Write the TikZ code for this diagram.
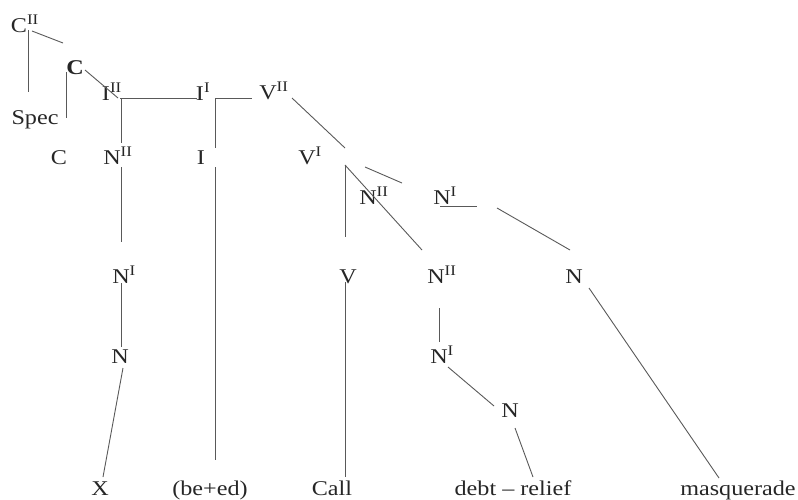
\documentclass[tikz,border=0pt]{standalone}
\usepackage{fontspec}
\setmainfont{Liberation Serif}[FakeStretch=1.15]
\newcommand\supr[1]{\rlap{\textsuperscript{#1}}}
\begin{document}
\begin{tikzpicture}[x=1pt,y=-1pt,
  lab/.style={anchor=base,inner sep=0pt,text=black!85,font=\fontsize{21}{21}\selectfont},
  ln/.style={draw=black!65,line width=0.9pt}]
\useasboundingbox (0,0) rectangle (798,499);
% labels
\node[lab] (cII)  at (19,32)  {C\supr{II}};
\node[lab] (cb)   at (75,74)  {\textbf{C}};
\node[lab] (spec) at (35,124) {Spec};
\node[lab] (clow) at (59,164) {C};
\node[lab] (iII)  at (106,100) {I\supr{II}};
\node[lab] (iI)   at (200,100) {I\supr{I}};
\node[lab] (vII)  at (268,99)  {V\supr{II}};
\node[lab] (nIIl) at (112,164) {N\supr{II}};
\node[lab] (il)   at (201,164) {I};
\node[lab] (vI)   at (307,164) {V\supr{I}};
\node[lab] (nIIt) at (368,204) {N\supr{II}};
\node[lab] (nIt)  at (442,204) {N\supr{I}};
\node[lab] (nIl)  at (121,283) {N\supr{I}};
\node[lab] (v)    at (348,283) {V};
\node[lab] (nIIm) at (436,283) {N\supr{II}};
\node[lab] (nr)   at (574,283) {N};
\node[lab] (nl)   at (120,363) {N};
\node[lab] (nIlow) at (439,363) {N\supr{I}};
\node[lab] (nlow) at (510,417) {N};
\node[lab] (x)    at (100,495) {X};
\node[lab] (beed) at (210,495) {(be+ed)};
\node[lab] (call) at (332,495) {Call};
\node[lab] (debt) at (513,495) {debt – relief};
\node[lab] (masq) at (738,495) {masquerade};
% connectors
\draw[ln] ([shift={(9,-2)}]cII.base) -- ([shift={(-7,-32)}]spec.base);
\draw[ln] ([shift={(13,-1)}]cII.base) -- ([shift={(-12,-31)}]cb.base);
\draw[ln] ([shift={(-9,-2)}]cb.base) -- ([shift={(7,-46)}]clow.base);
\draw[ln] ([shift={(10,-4)}]cb.base) -- ([shift={(12,-2)}]iII.base);
\draw[ln] ([shift={(14,-2)}]iII.base) -- ([shift={(-3,-2)}]iI.base);
\draw[ln] ([shift={(15,-2)}]iII.base) -- ([shift={(9,-21)}]nIIl.base);
\draw[ln] ([shift={(9,3)}]nIIl.base) -- ([shift={(0,-41)}]nIl.base);
\draw[ln] (nIl.base) -- ([shift={(1,-16)}]nl.base);
\draw[ln] ([shift={(3,5)}]nl.base) -- ([shift={(3,-18)}]x.base);
\draw[ln] ([shift={(15,-2)}]iI.base) -- ([shift={(-16,-1)}]vII.base);
\draw[ln] ([shift={(15,-2)}]iI.base) -- ([shift={(14,-16)}]il.base);
\draw[ln] ([shift={(14,3)}]il.base) -- ([shift={(5,-35)}]beed.base);
\draw[ln] ([shift={(24,-1)}]vII.base) -- ([shift={(38,-16)}]vI.base);
\draw[ln] ([shift={(38,1)}]vI.base) -- ([shift={(-3,-46)}]v.base);
\draw[ln] ([shift={(38,1)}]vI.base) -- ([shift={(-14,-33)}]nIIm.base);
\draw[ln] ([shift={(58,3)}]vI.base) -- ([shift={(34,-21)}]nIIt.base);
\coordinate (ul) at ([shift={(35,2)}]nIt.base);
\draw[ln] ([shift={(-2,2)}]nIt.base) -- (ul);
\draw[ln] ([shift={(55,4)}]nIt.base) -- ([shift={(-4,-33)}]nr.base);
\draw[ln] ([shift={(-3,-1)}]v.base) -- ([shift={(13,-18)}]call.base);
\draw[ln] ([shift={(3,25)}]nIIm.base) -- ([shift={(0,-21)}]nIlow.base);
\draw[ln] ([shift={(9,4)}]nIlow.base) -- ([shift={(-16,-11)}]nlow.base);
\draw[ln] ([shift={(5,11)}]nlow.base) -- ([shift={(20,-18)}]debt.base);
\draw[ln] ([shift={(15,5)}]nr.base) -- ([shift={(-19,-17)}]masq.base);
\end{tikzpicture}
\end{document}
